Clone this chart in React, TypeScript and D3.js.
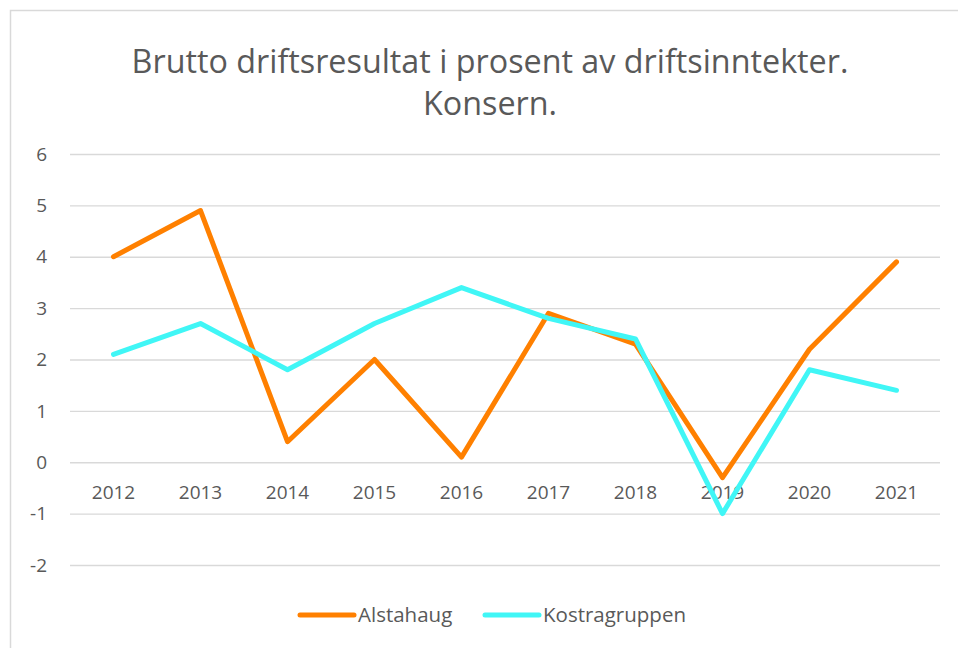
import React, { useEffect, useRef } from 'react';
import * as d3 from 'd3';

const years = ['2012', '2013', '2014', '2015', '2016', '2017', '2018', '2019', '2020', '2021'];
const alstahaug = [4.0, 4.9, 0.4, 2.0, 0.1, 2.9, 2.3, -0.3, 2.2, 3.9];
const kostragruppen = [2.1, 2.7, 1.8, 2.7, 3.4, 2.8, 2.4, -1.0, 1.8, 1.4];
const yTicks = [-2, -1, 0, 1, 2, 3, 4, 5, 6];
const titleLines = ['Brutto driftsresultat i prosent av driftsinntekter.', 'Konsern.'];

const seriesList = [
  { name: 'Alstahaug', values: alstahaug, color: '#ff8000' },
  { name: 'Kostragruppen', values: kostragruppen, color: '#40f6f6' },
];

const W = 958;
const H = 648;
const FONT = '"Open Sans", "Noto Sans", sans-serif';

const App = () => {
  const ref = useRef<SVGSVGElement>(null);

  useEffect(() => {
    const svg = d3.select(ref.current);
    svg.selectAll('*').remove();

    const margin = { left: 70, right: 18, top: 154, bottom: 83 };
    const plotW = W - margin.left - margin.right;
    const plotH = H - margin.top - margin.bottom;

    // chart frame
    svg.append('rect')
      .attr('x', 10.5).attr('y', 10.5)
      .attr('width', W).attr('height', H)
      .attr('fill', '#fff')
      .attr('stroke', '#d9d9d9')
      .attr('stroke-width', 1.5);

    const title = svg.append('text')
      .attr('text-anchor', 'middle')
      .attr('fill', '#595959')
      .style('font-family', FONT)
      .style('font-size', '32.3px');
    titleLines.forEach((l, i) => {
      title.append('tspan').attr('x', 490).attr('y', 73 + i * 42).text(l);
    });

    const g = svg.append('g').attr('transform', `translate(${margin.left},${margin.top})`);

    const x = d3.scaleBand().domain(years).range([0, plotW]);
    const y = d3.scaleLinear().domain([-2, 6]).range([plotH, 0]);

    // gridlines
    g.append('g')
      .call(d3.axisLeft(y).tickValues(yTicks).tickSize(-plotW).tickFormat(() => ''))
      .call(a => a.select('.domain').remove())
      .selectAll('line')
      .attr('stroke', '#d9d9d9')
      .attr('stroke-width', 1.3);

    // y labels
    g.append('g')
      .selectAll('text')
      .data(yTicks)
      .join('text')
      .attr('x', -23)
      .attr('y', d => y(d))
      .attr('dy', '0.35em')
      .attr('text-anchor', 'end')
      .attr('fill', '#595959')
      .style('font-family', FONT)
      .style('font-size', '19px')
      .text(d => String(d));

    // x labels next to zero line
    g.append('g')
      .selectAll('text')
      .data(years)
      .join('text')
      .attr('x', d => (x(d) ?? 0) + x.bandwidth() / 2)
      .attr('y', y(0) + 30)
      .attr('dy', '0.35em')
      .attr('text-anchor', 'middle')
      .attr('fill', '#595959')
      .style('font-family', FONT)
      .style('font-size', '19px')
      .text(d => d);

    const line = d3.line<number>()
      .x((_, i) => (x(years[i]) ?? 0) + x.bandwidth() / 2)
      .y(d => y(d));

    seriesList.forEach(s => {
      g.append('path')
        .datum(s.values)
        .attr('d', line)
        .attr('fill', 'none')
        .attr('stroke', s.color)
        .attr('stroke-width', 5)
        .attr('stroke-linejoin', 'round')
        .attr('stroke-linecap', 'round');
    });

    // legend
    const legendX = [300, 485];
    const legend = svg.append('g').attr('transform', 'translate(0,615)');
    seriesList.forEach((s, i) => {
      const item = legend.append('g').attr('transform', `translate(${legendX[i]},0)`);
      item.append('line')
        .attr('x1', 0).attr('x2', 54)
        .attr('stroke', s.color)
        .attr('stroke-width', 5)
        .attr('stroke-linecap', 'round');
      item.append('text')
        .attr('x', 58)
        .attr('dy', '0.35em')
        .attr('fill', '#595959')
        .style('font-family', FONT)
        .style('font-size', '20.5px')
        .text(s.name);
    });
  }, []);

  return (
    <svg
      ref={ref}
      width={W}
      height={H}
      style={{ position: 'absolute', left: 0, top: 0, background: '#fff' }}
    />
  );
};

export default App;
